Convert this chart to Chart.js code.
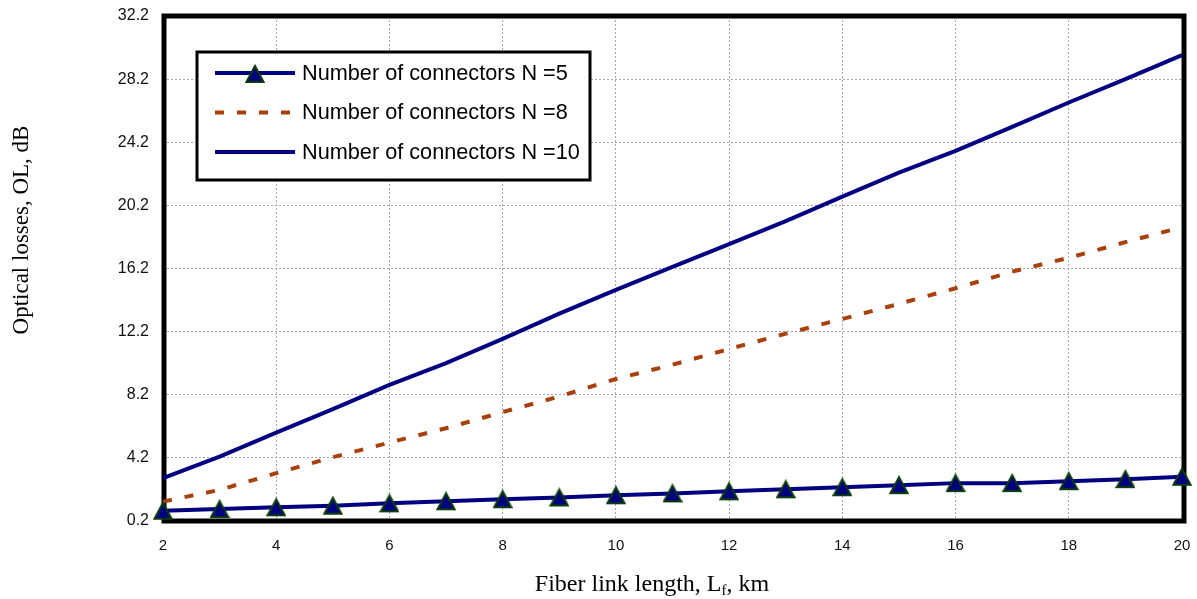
<!DOCTYPE html>
<html>
<head>
<meta charset="utf-8">
<title>Optical losses vs fiber link length</title>
<script src="https://cdn.jsdelivr.net/npm/chart.js@4.4.1/dist/chart.umd.min.js"></script>
<style>
  html, body { margin: 0; padding: 0; background: #fff; }
  #wrap { position: relative; width: 1197px; height: 599px; }
</style>
</head>
<body>
<div id="wrap"><canvas id="chart"></canvas></div>
<script>
// Fiber link length, km
const lengthsKm = [2, 3, 4, 5, 6, 7, 8, 9, 10, 11, 12, 13, 14, 15, 16, 17, 18, 19, 20];

// Optical losses, dB, for each number of connectors
const lossN5  = [0.85, 0.96, 1.07, 1.17, 1.32, 1.45, 1.58, 1.69, 1.83, 1.95, 2.08, 2.21, 2.34, 2.47, 2.60, 2.60, 2.72, 2.85, 3.00];
const lossN8  = [1.43, 2.17, 3.23, 4.24, 5.17, 6.08, 7.10, 8.09, 9.20, 10.10, 11.10, 12.07, 13.00, 13.96, 14.95, 16.00, 16.88, 17.87, 18.82];
const lossN10 = [2.91, 4.28, 5.80, 7.29, 8.83, 10.20, 11.74, 13.34, 14.85, 16.30, 17.75, 19.20, 20.75, 22.27, 23.65, 25.17, 26.72, 28.20, 29.72];

const seriesLabels = ['Number of connectors N =5', 'Number of connectors N =8', 'Number of connectors N =10'];

// Axis ticks
const xTickValues = [2, 4, 6, 8, 10, 12, 14, 16, 18, 20];
const yTickValues = [0.2, 4.2, 8.2, 12.2, 16.2, 20.2, 24.2, 28.2, 32.2];

const NAVY = '#000080';
const RUST = '#A8400C';
const MARKER_EDGE = '#0b3d0b';
const SANS = '"Liberation Sans", Arial, sans-serif';
const SERIF = '"Liberation Serif", "Times New Roman", serif';

const toPoints = (ys) => ys.map((y, i) => ({ x: lengthsKm[i], y }));

// Triangle marker whose box is centred on the data point
function makeTriangleMarker() {
  const c = document.createElement('canvas');
  c.width = 20; c.height = 20;
  const g = c.getContext('2d');
  g.beginPath();
  g.moveTo(10, 2);
  g.lineTo(18.6, 18);
  g.lineTo(1.4, 18);
  g.closePath();
  g.fillStyle = NAVY;
  g.fill();
  g.lineWidth = 2;
  g.lineJoin = 'miter';
  g.strokeStyle = MARKER_EDGE;
  g.stroke();
  return c;
}
const triangleMarker = makeTriangleMarker();

// Thick black frame around the plotting area
const framePlugin = {
  id: 'frame',
  beforeDatasetsDraw(chart) {
    const { ctx, chartArea: a } = chart;
    ctx.save();
    ctx.strokeStyle = '#000';
    ctx.lineWidth = 5;
    ctx.lineJoin = 'miter';
    ctx.strokeRect(a.left + 1, a.top, a.right - a.left + 1, a.bottom - a.top);
    ctx.restore();
  }
};

// Boxed legend inside the plotting area
const boxLegendPlugin = {
  id: 'boxLegend',
  afterDraw(chart) {
    const { ctx, chartArea: a } = chart;
    const bx = a.left + 34, by = a.top + 36, bw = 393, bh = 128;
    ctx.save();
    ctx.fillStyle = '#fff';
    ctx.fillRect(bx, by, bw, bh);
    ctx.lineWidth = 3;
    ctx.strokeStyle = '#000';
    ctx.strokeRect(bx, by, bw, bh);
    chart.data.datasets.forEach((ds, i) => {
      const y = by + 21 + i * 39.5;
      ctx.save();
      ctx.strokeStyle = ds.borderColor;
      ctx.lineWidth = ds.borderWidth;
      ctx.setLineDash(ds.borderDash || []);
      ctx.beginPath();
      ctx.moveTo(bx + 18, y);
      ctx.lineTo(bx + 98, y);
      ctx.stroke();
      ctx.restore();
      if (ds.pointRadius > 0 && ds.pointStyle instanceof HTMLCanvasElement) {
        const m = ds.pointStyle;
        ctx.drawImage(m, bx + 58 - m.width / 2, y - m.height / 2 + 1);
      }
      ctx.fillStyle = '#000';
      ctx.font = '21.7px ' + SANS;
      ctx.textAlign = 'left';
      ctx.textBaseline = 'middle';
      ctx.fillText(ds.label, bx + 105, y + 1);
    });
    ctx.restore();
  }
};

// Axis titles (the x title carries a subscript)
const axisTitlesPlugin = {
  id: 'axisTitles',
  afterDraw(chart) {
    const { ctx } = chart;
    ctx.save();
    ctx.fillStyle = '#000';
    ctx.textBaseline = 'alphabetic';
    ctx.textAlign = 'left';
    const bigFont = '24px ' + SERIF;
    const subFont = '15px ' + SERIF;
    const p1 = 'Fiber link length, L', sub = 'f', p2 = ', km';
    ctx.font = bigFont;
    const w1 = ctx.measureText(p1).width;
    const w3 = ctx.measureText(p2).width;
    ctx.font = subFont;
    const w2 = ctx.measureText(sub).width;
    const total = w1 + w2 + w3;
    const cx = 652, base = 591;
    let x = cx - total / 2;
    ctx.font = bigFont;
    ctx.fillText(p1, x, base);
    x += w1;
    ctx.font = subFont;
    ctx.fillText(sub, x, base + 4);
    x += w2;
    ctx.font = bigFont;
    ctx.fillText(p2, x, base);

    ctx.translate(22, 230);
    ctx.rotate(-Math.PI / 2);
    ctx.font = '23px ' + SERIF;
    ctx.textAlign = 'center';
    ctx.textBaseline = 'middle';
    ctx.fillText('Optical losses, OL, dB', 0, 0);
    ctx.restore();
  }
};

const gridStyle = {
  color: '#a6a6a6',
  lineWidth: 1,
  drawTicks: false
};

// Fixed axis sizes; label overhang is already covered by layout padding
const fixX = (s) => { s.height = 78; s.paddingLeft = 0; s.paddingRight = 0; s.paddingTop = 0; s.paddingBottom = 0; };
const fixY = (s) => { s.width = 163; s.paddingLeft = 0; s.paddingRight = 0; s.paddingTop = 0; s.paddingBottom = 0; };

new Chart(document.getElementById('chart'), {
  type: 'line',
  data: {
    datasets: [
      {
        label: seriesLabels[0],
        data: toPoints(lossN5),
        borderColor: NAVY,
        borderWidth: 4,
        pointStyle: triangleMarker,
        pointRadius: 10,
        pointHoverRadius: 10,
        pointBackgroundColor: NAVY,
        pointBorderColor: MARKER_EDGE,
        tension: 0,
        clip: false,
        order: 0
      },
      {
        label: seriesLabels[1],
        data: toPoints(lossN8),
        borderColor: RUST,
        borderWidth: 4,
        borderDash: [9, 13],
        pointRadius: 0,
        tension: 0,
        clip: false,
        order: 1
      },
      {
        label: seriesLabels[2],
        data: toPoints(lossN10),
        borderColor: NAVY,
        borderWidth: 4,
        pointRadius: 0,
        tension: 0,
        clip: false,
        order: 2
      }
    ]
  },
  options: {
    responsive: true,
    maintainAspectRatio: false,
    animation: false,
    layout: { padding: { top: 16, right: 15, left: 0, bottom: 0 } },
    plugins: {
      legend: { display: false },
      tooltip: { enabled: false }
    },
    scales: {
      x: {
        type: 'linear',
        min: 2,
        max: 20,
        afterBuildTicks: (s) => { s.ticks = xTickValues.map(v => ({ value: v })); },
        afterFit: fixX,
        ticks: {
          padding: 16,
          color: '#111',
          font: { family: SANS, size: 15 },
          maxRotation: 0,
          callback: (v) => String(v)
        },
        grid: gridStyle,
        border: { display: false, dash: [2, 2] }
      },
      y: {
        type: 'linear',
        min: 0.2,
        max: 32.2,
        afterBuildTicks: (s) => { s.ticks = yTickValues.map(v => ({ value: v })); },
        afterFit: fixY,
        ticks: {
          padding: 14,
          color: '#111',
          font: { family: SANS, size: 16 },
          callback: (v) => Number(v).toFixed(1)
        },
        grid: gridStyle,
        border: { display: false, dash: [2, 2] }
      }
    }
  },
  plugins: [framePlugin, boxLegendPlugin, axisTitlesPlugin]
});
</script>
</body>
</html>
